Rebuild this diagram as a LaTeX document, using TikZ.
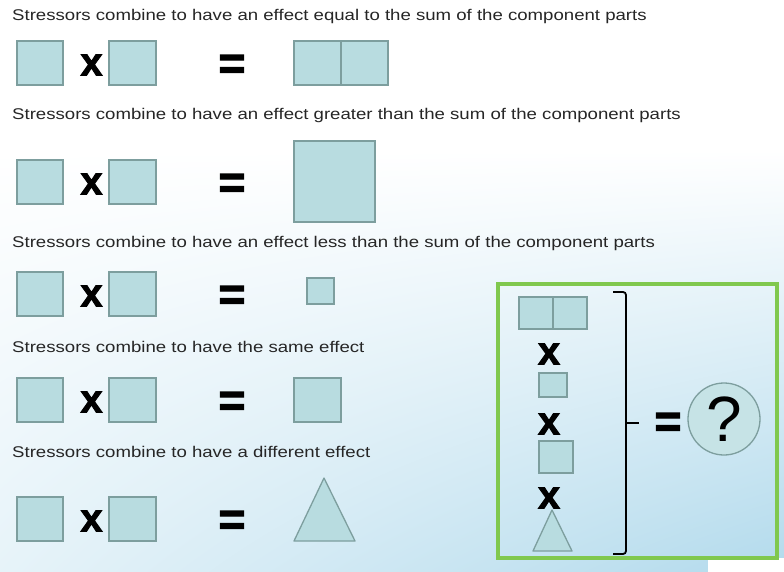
\documentclass[tikz,border=0pt]{standalone}
\usepackage{fontspec}
\setmainfont{Liberation Sans}
\newfontfamily\capfont[FakeStretch=1.2]{Liberation Sans}
\newfontfamily\opfont[FakeBold=2.5]{Liberation Sans Bold}
\usepackage{xcolor}
\usetikzlibrary{positioning,shapes.geometric,shadings}
\definecolor{cellfill}{RGB}{184,220,224}
\definecolor{cellline}{RGB}{125,158,158}
\definecolor{frame}{RGB}{128,200,78}
\definecolor{water}{RGB}{178,218,236}

\begin{document}
\begin{tikzpicture}[
  x=1pt, y=-1pt,
  font=\capfont\fontsize{15.5}{18}\selectfont,
  cell/.style={rectangle, draw=cellline, fill=cellfill, line width=1.3pt, inner sep=0pt},
  caption/.style={anchor=west, inner sep=0pt, text=black!85},
  op/.style={font=\opfont\fontsize{39}{39}\selectfont, inner sep=0pt},
  eqsign/.style={font=\opfont\fontsize{46}{46}\selectfont, inner sep=0pt},
  brace/.style={line width=1.8pt, rounded corners=3pt}
]
% background
\useasboundingbox (0,0) rectangle (784,572);
\fill[white] (0,0) rectangle (784,572);
\shade[upper left=white, upper right=white, lower left=water!32, lower right=water] (0,150) rectangle (784,572);
\fill[white] (708,558) rectangle (784,572);
% captions
\node[caption] (t1) at (12,16)  {Stressors combine to have an effect equal to the sum of the component parts};
\node[caption] (t2) at (12,115) {Stressors combine to have an effect greater than the sum of the component parts};
\node[caption] (t3) at (12,243) {Stressors combine to have an effect less than the sum of the component parts};
\node[caption] (t4) at (12,347) {Stressors combine to have the same effect};
\node[caption] (t5) at (12,452) {Stressors combine to have a different effect};
% left-hand pairs
\foreach \r/\y in {1/63, 2/182, 3/294, 4/400, 5/519} {
  \node[cell, minimum width=46pt, minimum height=44pt] (a\r) at (40,\y) {};
  \node[op] (x\r) at (91.5,\y+2) {x};
  \node[cell, minimum width=47pt, minimum height=44pt] (b\r) at (132.5,\y) {};
  \node[eqsign] (eq\r) at (232,\y+4) {=};
}
% results
\node[cell, minimum width=47pt, minimum height=44pt] (sumL) at (317.5,63) {};
\node[cell, minimum width=47pt, minimum height=44pt] (sumR) at (364.5,63) {};
\node[cell, minimum width=81pt, minimum height=81pt] (big) at (334.5,181.5) {};
\node[cell, minimum width=27pt, minimum height=26pt] (small) at (320.5,291) {};
\node[cell, minimum width=47pt, minimum height=44pt] (same) at (317.5,400) {};
\draw[cellline, fill=cellfill, line width=1.3pt, line join=round] (324,478) -- (355,541) -- (294,541) -- cycle;
% combined box
\draw[frame, line width=4pt] (498,284) rectangle (777,558);
\node[cell, minimum width=34pt, minimum height=32pt] (mixL) at (536,313) {};
\node[cell, minimum width=34pt, minimum height=32pt] (mixR) at (570,313) {};
\node[op] (mx1) at (549,354) {x};
\node[cell, minimum width=28pt, minimum height=24pt] (mixS) at (553,385) {};
\node[op] (mx2) at (549,424) {x};
\node[cell, minimum width=34pt, minimum height=32pt] (mixM) at (556,457) {};
\node[op] (mx3) at (549,498) {x};
\draw[cellline, fill=cellfill, line width=1.3pt, line join=round] (552,510) -- (572,551) -- (533,551) -- cycle;
\draw[brace] (613,292) -- (626,292) -- (626,554) -- (613,554);
\draw[line width=1.8pt] (626,423) -- (639,423);
\node[eqsign] (mxeq) at (668,425) {=};
\node[circle, draw=cellline, fill=cellfill!80!white, line width=1.3pt, minimum size=72pt, inner sep=0pt,
      font=\fontsize{64}{64}\selectfont] (unknown) at (724,419) {?};
\end{tikzpicture}
\end{document}
